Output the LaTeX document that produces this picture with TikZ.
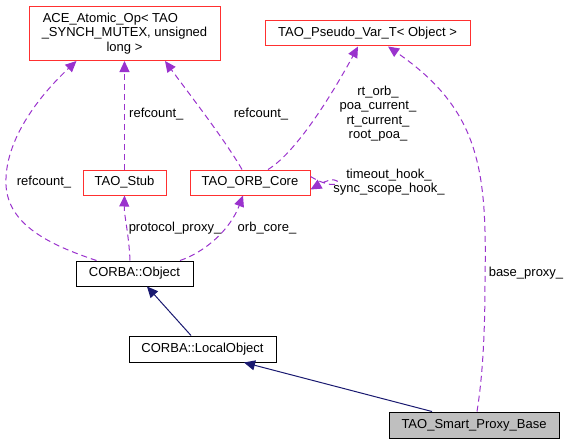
\documentclass[tikz,border=0pt]{standalone}
\usepackage{fontspec}
\setmainfont{Liberation Sans}
\usetikzlibrary{arrows.meta}
\definecolor{boxred}{HTML}{FF3030}
\definecolor{edgepurple}{HTML}{9A32CD}
\definecolor{edgenavy}{HTML}{191970}
\definecolor{grayfill}{HTML}{BFBFBF}
\begin{document}
\begin{tikzpicture}[x=1pt,y=-1pt,
  font=\fontsize{13}{14.5}\selectfont,
  cls/.style={draw=boxred,line width=1pt,rectangle,inner sep=0pt,align=center},
  base/.style={draw=black,line width=1pt,rectangle,inner sep=0pt,align=center},
  usage/.style={draw=edgepurple,line width=1pt,dash pattern=on 6pt off 4pt,-{Triangle[length=11pt,width=10pt,fill=edgepurple]}},
  inherit/.style={draw=edgenavy,line width=1pt,-{Triangle[length=11pt,width=10pt,fill=edgenavy]}},
  lbl/.style={inner sep=0pt,align=center}]
\useasboundingbox (0,0) rectangle (569,444);
% nodes
\node[cls,minimum width=191pt,minimum height=54pt] (ace) at (124.5,33.5) {ACE\_Atomic\_Op< TAO\hphantom{ ,uns}\\\_SYNCH\_MUTEX, unsigned\\long >};
\node[cls,minimum width=205pt,minimum height=25pt] (pseudo) at (367.5,33.5) {TAO\_Pseudo\_Var\_T< Object >};
\node[cls,minimum width=83pt,minimum height=25pt] (stub) at (124.5,182.5) {TAO\_Stub};
\node[cls,minimum width=120pt,minimum height=25pt] (orb) at (250,182.5) {TAO\_ORB\_Core};
\node[base,minimum width=117pt,minimum height=25pt] (obj) at (134.5,273.5) {CORBA::Object};
\node[base,minimum width=147pt,minimum height=26pt] (local) at (202.5,349) {CORBA::LocalObject};
\node[base,fill=grayfill,minimum width=170pt,minimum height=26pt] (proxy) at (474,425) {TAO\_Smart\_Proxy\_Base};
% labels
\node[lbl] (l1) at (44,182) {refcount\_};
\node[lbl,anchor=west] (l2) at (129,114) {refcount\_};
\node[lbl] (l3) at (261,114) {refcount\_};
\node[lbl] (l4) at (378,113.5) {rt\_orb\_\\poa\_current\_\\rt\_current\_\\root\_poa\_};
\node[lbl] (l5) at (389,182) {timeout\_hook\_\\sync\_scope\_hook\_};
\node[lbl] (l6) at (526,273) {base\_proxy\_};
\node[lbl] (l7) at (175,228) {protocol\_proxy\_};
\node[lbl] (l8) at (267,228) {orb\_core\_};
% usage edges
\draw[usage] ([xshift=21pt]obj.north west) .. controls (50,245) and (8,225) .. (6,185) .. controls (4,140) and (40,95) .. ([xshift=48pt]ace.south west);
\draw[usage] (stub.north) -- (stub.north |- ace.south);
\draw[usage] ([xshift=-8pt]orb.north) .. controls (225,140) and (190,95) .. ([xshift=40.5pt]ace.south);
\draw[usage] ([xshift=18pt]orb.north) .. controls (300,150) and (340,80) .. ([xshift=-9.5pt]pseudo.south);
\draw[usage] ([yshift=6pt]orb.east) .. controls (345,197) and (345,170) .. ([yshift=-7pt]orb.east);
\draw[usage] ([xshift=3pt]proxy.north) .. controls (482,380) and (485,340) .. (485,280) .. controls (487,170) and (480,110) .. ([xshift=20.5pt]pseudo.south);
\draw[usage] ([xshift=-4.5pt]obj.north) .. controls (129,235) and (124,215) .. (stub.south);
\draw[usage] ([xshift=45.5pt]obj.north) .. controls (205,252) and (230,230) .. ([xshift=-7pt]orb.south);
% inheritance edges
\draw[inherit] ([xshift=-11.5pt]local.north) -- ([xshift=12.5pt]obj.south);
\draw[inherit] ([xshift=-42pt]proxy.north) -- ([xshift=41.5pt]local.south);
\end{tikzpicture}
\end{document}
